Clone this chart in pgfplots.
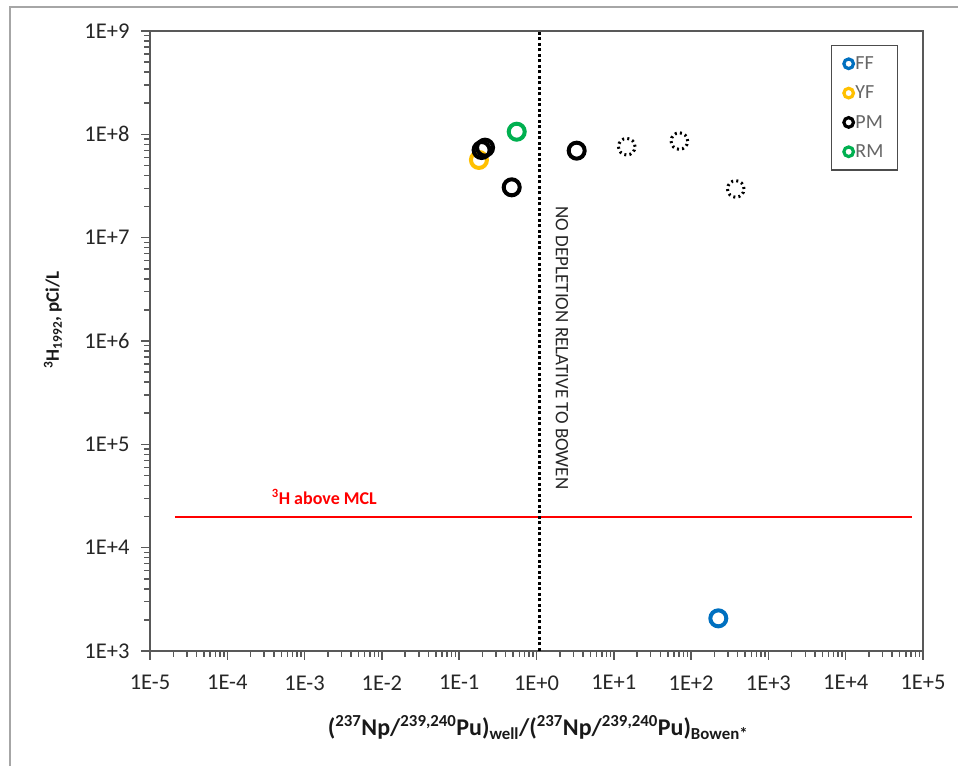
\documentclass[border=0pt]{standalone}
\usepackage{pgfplots}
\pgfplotsset{compat=1.18}
\usepackage{fontspec}
\setmainfont{Carlito}
\definecolor{ffblue}{HTML}{0070C0}
\definecolor{yforange}{HTML}{FFC000}
\definecolor{rmgreen}{HTML}{00B050}
\definecolor{mclred}{HTML}{FF0000}
\begin{document}
\begin{tikzpicture}
\path[use as bounding box] (0pt,0pt) rectangle (958pt,766pt);
\draw[color=black!35, line width=2.5pt] (10pt,0pt) -- (10pt,759pt) -- (958pt,759pt);
\begin{axis}[
  at={(150pt,115pt)}, anchor=south west,
  width=773pt, height=620pt, scale only axis,
  xmode=log, ymode=log,
  xmin=1e-5, xmax=1e5, ymin=1e3, ymax=1e9,
  axis line style={draw=black!65, line width=1.5pt},
  xtick={1e-5,1e-4,1e-3,1e-2,1e-1,1,10,100,1e3,1e4,1e5},
  xticklabels={1E-5,1E-4,1E-3,1E-2,1E-1,1E+0,1E+1,1E+2,1E+3,1E+4,1E+5},
  ytick={1e3,1e4,1e5,1e6,1e7,1e8,1e9},
  yticklabels={1E+3,1E+4,1E+5,1E+6,1E+7,1E+8,1E+9},
  minor xtick={2e-5,3e-5,4e-5,5e-5,6e-5,7e-5,8e-5,9e-5,
    2e-4,3e-4,4e-4,5e-4,6e-4,7e-4,8e-4,9e-4,
    2e-3,3e-3,4e-3,5e-3,6e-3,7e-3,8e-3,9e-3,
    2e-2,3e-2,4e-2,5e-2,6e-2,7e-2,8e-2,9e-2,
    0.2,0.3,0.4,0.5,0.6,0.7,0.8,0.9,
    2,3,4,5,6,7,8,9,
    20,30,40,50,60,70,80,90,
    200,300,400,500,600,700,800,900,
    2e3,3e3,4e3,5e3,6e3,7e3,8e3,9e3,
    2e4,3e4,4e4,5e4,6e4,7e4,8e4,9e4},
  minor ytick={2e3,3e3,4e3,5e3,6e3,7e3,8e3,9e3,
    2e4,3e4,4e4,5e4,6e4,7e4,8e4,9e4,
    2e5,3e5,4e5,5e5,6e5,7e5,8e5,9e5,
    2e6,3e6,4e6,5e6,6e6,7e6,8e6,9e6,
    2e7,3e7,4e7,5e7,6e7,7e7,8e7,9e7,
    2e8,3e8,4e8,5e8,6e8,7e8,8e8,9e8},
  tick align=outside, xtick pos=bottom, ytick pos=left,
  major tick length=9pt, minor tick length=6pt,
  major tick style={draw=black!65, line width=1.5pt},
  minor tick style={draw=black!65, line width=1.5pt},
  ticklabel style={font=\fontsize{22.5}{26}\selectfont, text=black!85},
  xticklabel style={yshift=-12pt},
  yticklabel style={xshift=-8pt},
  xlabel={\textbf{(\textsuperscript{237}Np/\textsuperscript{239,240}Pu)\textsubscript{well}/(\textsuperscript{237}Np/\textsuperscript{239,240}Pu)\textsubscript{Bowen*}}},
  xlabel style={at={(axis description cs:0.502,-0.124)}, anchor=center, font=\fontsize{24}{28}\selectfont, text=black!90},
  ylabel={\textbf{\textsuperscript{3}H\textsubscript{1992}, pCi/L}},
  ylabel style={at={(axis description cs:-0.1255,0.534)}, anchor=center, font=\fontsize{19}{22}\selectfont, text=black!90},
  legend style={at={(0.9677,0.9774)}, anchor=north east, draw=black!70, line width=1.2pt,
    row sep=11pt, inner xsep=12pt, inner ysep=9pt,
    nodes={font=\fontsize{20}{22}\selectfont, text=black!60},
    cells={anchor=west}},
  legend image code/.code={\draw[#1, mark size=4.8pt, line width=3.2pt] plot coordinates {(0pt,0pt)};},
  clip=false,
]
% MCL line
\addplot[mclred, line width=2pt, forget plot] coordinates {(2.1e-5,2e4) (7.2e4,2e4)};
% no depletion line
\addplot[black, line width=3pt, dash pattern=on 3pt off 2.5pt, forget plot] coordinates {(1.1,1e3) (1.1,1e9)};
% FF
\addplot[only marks, mark=o, ffblue, mark size=8pt, line width=4pt] coordinates {(225,2.07e3)};
\addlegendentry{FF}
% YF
\addplot[only marks, mark=o, yforange, mark size=8pt, line width=4pt] coordinates {(0.180,5.65e7)};
\addlegendentry{YF}
% PM
\addplot[only marks, mark=o, black, mark size=8pt, line width=4pt] coordinates {
(0.195,7.05e7) (0.216,7.43e7) (0.478,3.07e7) (3.31,6.95e7)};
\addlegendentry{PM}
% RM
\addplot[only marks, mark=o, rmgreen, mark size=8pt, line width=4pt] coordinates {(0.555,1.06e8)};
\addlegendentry{RM}
% PM dotted circles
\addplot[only marks, mark=o, black, mark size=8.3pt, line width=3pt, forget plot,
  mark options={dash pattern=on 2pt off 3.2pt}] coordinates {
(14.7,7.59e7) (70.5,8.6e7) (378,2.96e7)};
\node[text=mclred, font=\bfseries\fontsize{18}{20}\selectfont] at (axis cs:1.8e-3,3.1e4) {\textsuperscript{3}H above MCL};
\node[rotate=-90, text=black!85, font=\fontsize{19}{21}\selectfont] at (axis cs:2.14,8.55e5) {NO DEPLETION RELATIVE TO BOWEN};
\end{axis}
\end{tikzpicture}
\end{document}
